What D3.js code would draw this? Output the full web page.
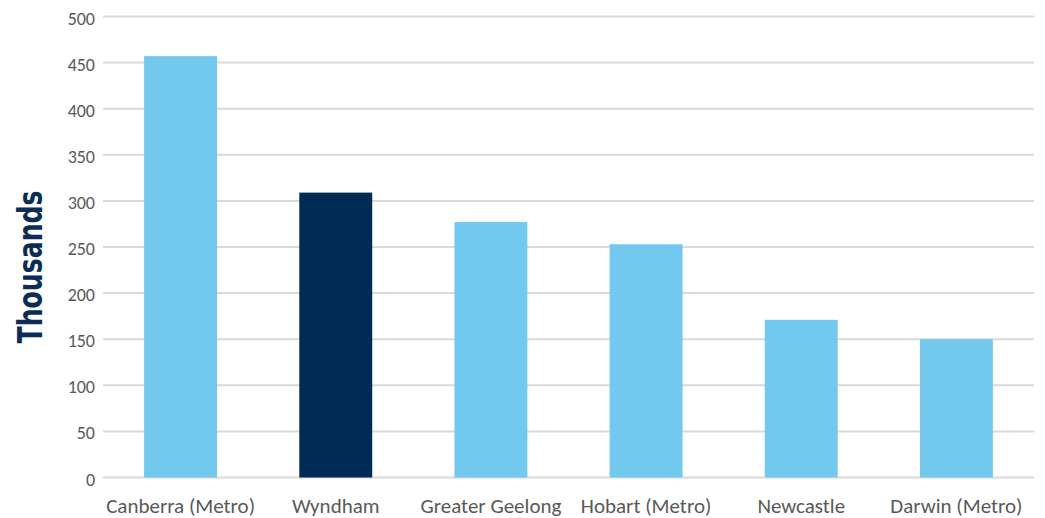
<!DOCTYPE html>
<html>
<head>
<meta charset="utf-8">
<script src="https://cdn.jsdelivr.net/npm/d3@7"></script>
<style>
  body { margin: 0; background: #fff; }
  svg { display: block; font-family: Carlito, Lato, "Open Sans", sans-serif; }
</style>
</head>
<body>
<div id="chart"></div>
<script>
// values, in thousands
const regions = ["Canberra (Metro)", "Wyndham", "Greater Geelong", "Hobart (Metro)", "Newcastle", "Darwin (Metro)"]
const population = [457, 309, 277, 253, 171, 150]
const yTicks = [0, 50, 100, 150, 200, 250, 300, 350, 400, 450, 500]
const highlight = "Wyndham"

const width = 1045, height = 518
const lightBlue = "#72c9ed", navy = "#002b54"

const svg = d3.select("#chart").append("svg")
    .attr("width", width)
    .attr("height", height)

const x = d3.scaleBand()
    .domain(regions)
    .range([103, 1034])
    .paddingInner(0.53)
    .paddingOuter(0.265)

const y = d3.scaleLinear()
    .domain([0, 500])
    .range([477.5, 16.5])

// gridlines
svg.append("g")
    .selectAll("line")
    .data(yTicks)
    .join("line")
    .attr("x1", 103)
    .attr("x2", 1034)
    .attr("y1", d => y(d))
    .attr("y2", d => y(d))
    .attr("stroke", "#d9d9d9")
    .attr("stroke-width", 2)

// y axis labels
const yAxis = svg.append("g")
    .attr("transform", "translate(103,0)")
    .call(d3.axisLeft(y).tickValues(yTicks).tickSize(0).tickPadding(8))
yAxis.select(".domain").remove()
yAxis.selectAll("text")
    .attr("font-family", "Carlito, Lato, sans-serif")
    .attr("font-size", 18)
    .attr("fill", "#595959")
    .attr("dy", "0.42em")

// bars
svg.append("g")
    .selectAll("rect")
    .data(regions)
    .join("rect")
    .attr("x", d => x(d))
    .attr("width", x.bandwidth())
    .attr("y", (d, i) => y(population[i]))
    .attr("height", (d, i) => y(0) - y(population[i]))
    .attr("fill", d => d === highlight ? navy : lightBlue)

// category labels
const xAxis = svg.append("g")
    .attr("transform", "translate(0," + y(0) + ")")
    .call(d3.axisBottom(x).tickSize(0).tickPadding(0))
xAxis.select(".domain").remove()
xAxis.selectAll("text")
    .attr("font-family", "Carlito, Lato, sans-serif")
    .attr("font-size", 21)
    .attr("fill", "#595959")
    .attr("dy", 0)
    .attr("y", 35)

// axis title
svg.append("text")
    .attr("transform", "translate(42,267) rotate(-90)")
    .attr("text-anchor", "middle")
    .attr("font-family", "'DejaVu Sans Condensed', 'DejaVu Sans', sans-serif")
    .attr("font-weight", "bold")
    .attr("font-size", 34)
    .attr("fill", "#0b2d55")
    .attr("textLength", 153)
    .attr("lengthAdjust", "spacingAndGlyphs")
    .text("Thousands")
</script>
</body>
</html>
